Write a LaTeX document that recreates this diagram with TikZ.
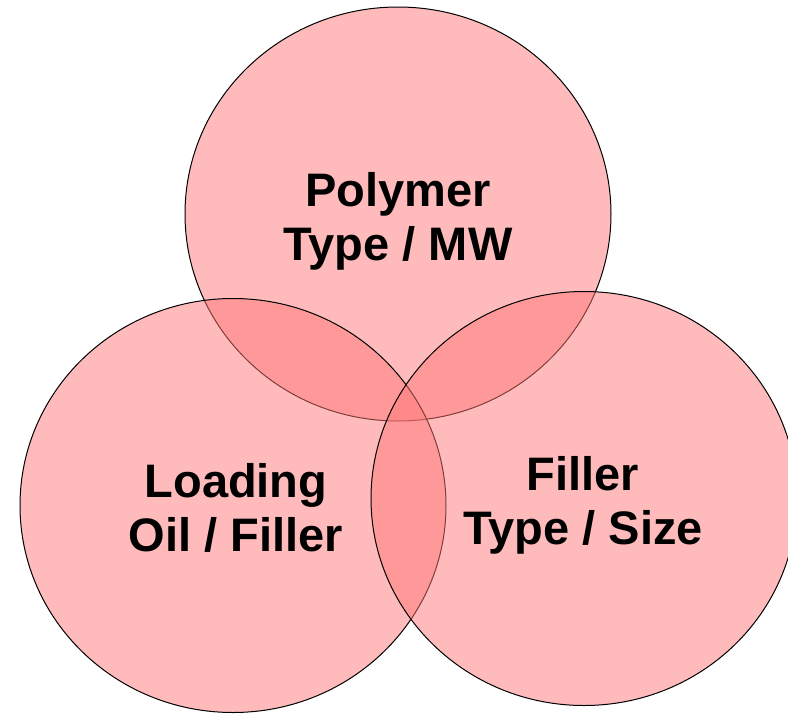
\documentclass[tikz,border=0pt]{standalone}
\usepackage{fontspec}
\setmainfont{Liberation Sans}
\definecolor{vennRose}{HTML}{FF7878}
\definecolor{vennInk}{HTML}{000000}
\tikzset{
  venn diagram/.style={
    x=0.5pt, y=-0.5pt, line width=0.5pt,
    every node/.style={font=\bfseries\fontsize{23.5}{27}\selectfont,
      text=vennInk, align=center, inner sep=0pt, outer sep=0pt}
  },
  venn set/.style={draw=vennInk, fill=vennRose, fill opacity=0.5}
}

\begin{document}
\begin{tikzpicture}[venn diagram]
    \useasboundingbox (0,0) rectangle (788,713);
    % sets: polymer, loading, filler
    \foreach \vennX/\vennY in {398/214,233/505.5,584/498.5} {
      \filldraw[venn set] (\vennX,\vennY) ellipse[x radius=213,y radius=207];
    }
    \node (polymer) at (398,221) {Polymer\\Type / MW};
    \node (loading) at (236,507.5) {Loading\\Oil / Filler};
    \node (filler) at (583,505) {Filler\\Type / Size};
\end{tikzpicture}
\end{document}
